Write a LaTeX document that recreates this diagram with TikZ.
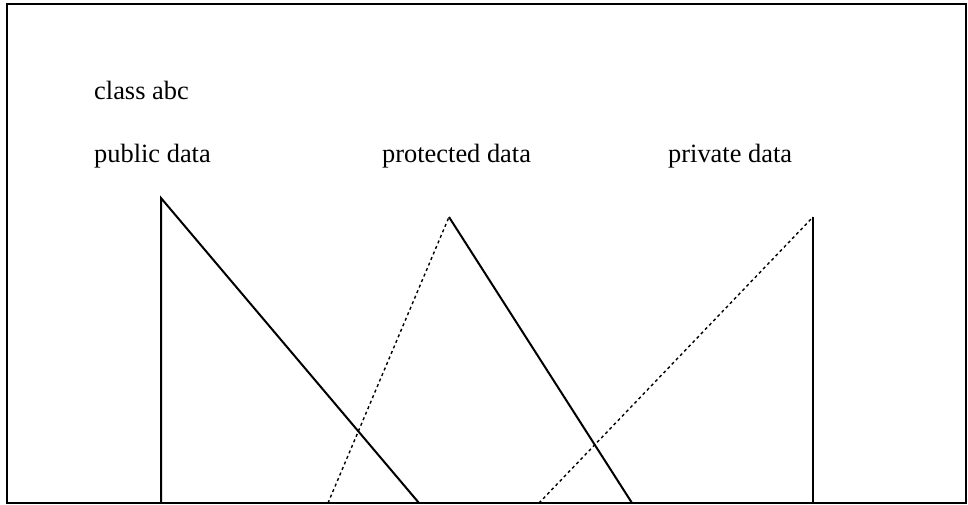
\documentclass[tikz,border=0pt]{standalone}
\usepackage{fontspec}
\setmainfont{Liberation Serif}
\usetikzlibrary{positioning}

\begin{document}
\begin{tikzpicture}[
    x=1pt, y=-1pt,
    label/.style={anchor=base west, inner sep=0pt, font=\fontsize{26.4}{30}\selectfont},
    solidline/.style={line width=2pt},
    dotline/.style={line width=1.4pt, dash pattern=on 3pt off 3pt}
]
\useasboundingbox (0,0) rectangle (968,504);

% ------------------------
% Outer frame
% ------------------------
\draw[line width=2.4pt] (7,4) rectangle (966,503);

% ------------------------
% Texts
% ------------------------
\node[label] (cls) at (94,99) {class abc};
\node[label] (pub) at (94,162) {public data};
\node[label] (prot) at (382,162) {protected data};
\node[label] (priv) at (668,162) {private data};

% ------------------------
% Line ends
% ------------------------
\coordinate (pubtop) at (161,198);
\coordinate (pubfoot) at (161,503);
\coordinate (pubdiag) at (419,503);
\coordinate (prottop) at (449,217);
\coordinate (protdot) at (328,503);
\coordinate (protfoot) at (632,503);
\coordinate (privtop) at (813,217);
\coordinate (privfoot) at (813,503);
\coordinate (privdot) at (539,503);

% ------------------------
% Lines
% ------------------------
\draw[solidline] (pubfoot) -- (pubtop) -- (pubdiag);
\draw[dotline] (protdot) -- (prottop);
\draw[solidline] (prottop) -- (protfoot);
\draw[dotline] (privdot) -- (privtop);
\draw[solidline] (privtop) -- (privfoot);

\end{tikzpicture}
\end{document}
